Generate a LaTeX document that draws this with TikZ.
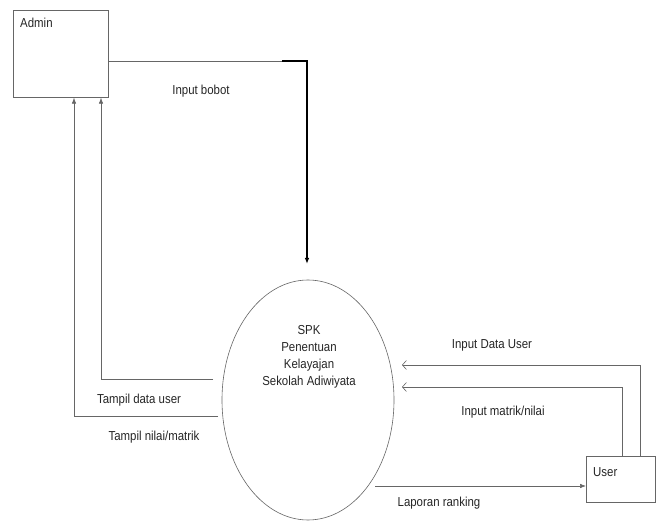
\documentclass[tikz,border=0pt]{standalone}
\usepackage{fontspec}
\setmainfont[FakeStretch=0.88]{Liberation Sans}
\usetikzlibrary{arrows.meta,shapes.geometric}
\begin{document}
\begin{tikzpicture}[x=1pt,y=-1pt,
  ln/.style={draw=black!60, line width=0.6pt},
  bold/.style={draw=black, line width=1.1pt},
  fillarrow/.style={-{Latex[length=6pt,width=4.5pt]}},
  openarrow/.style={-{Straight Barb[length=4pt,width=9pt]}},
  lbl/.style={font=\fontsize{13}{15}\selectfont, inner sep=0pt, text=black!85},
  entity/.style={draw=black!60, line width=0.7pt, inner sep=0pt, anchor=north west}]
\useasboundingbox[fill=white] (0,0) rectangle (662,521);
% entities
\node[entity, minimum width=95pt, minimum height=87pt] (admin) at (13,10) {};
\node[lbl, anchor=north west] (admint) at (20,18) {Admin};
\node[entity, minimum width=69pt, minimum height=46pt] (user) at (586,456) {};
\node[lbl, anchor=west] (usert) at (593,472) {User};
% process
\node[ellipse, draw=black!60, line width=0.6pt, minimum width=172pt, minimum height=240pt] (spk) at (308,400) {};
\node[lbl, align=center, font=\fontsize{13}{17}\selectfont] (spkt) at (309,357) {SPK\\Penentuan\\Kelayajan\\Sekolah Adiwiyata};
% coordinates
\coordinate (b0) at (108,61);
\coordinate (b1) at (282,61);
\coordinate (b2) at (307,61);
\coordinate (b3) at (307,264);
\coordinate (t1) at (213,379);
\coordinate (t2) at (101,379);
\coordinate (t3) at (218,416);
\coordinate (t4) at (74,416);
\coordinate (u1) at (640,365);
\coordinate (u2) at (402,365);
\coordinate (u3) at (622,387);
\coordinate (u4) at (402,387);
\coordinate (l1) at (375,486);
% connectors
\draw[ln] (b0) -- (b1);
\draw[bold, fillarrow] (b1) -- (b2) -- (b3);
\draw[ln, fillarrow] (t1) -- (t2) -- (t2 |- admin.south);
\draw[ln, fillarrow] (t3) -- (t4) -- (t4 |- admin.south);
\draw[ln, openarrow] (user.north -| u1) -- (u1) -- (u2);
\draw[ln, openarrow] (user.north -| u3) -- (u3) -- (u4);
\draw[ln, fillarrow] (l1) -- (l1 -| user.west);
% labels
\node[lbl] (lb1) at (201,91) {Input bobot};
\node[lbl] (lb2) at (139,400) {Tampil data user};
\node[lbl] (lb3) at (154,437) {Tampil nilai/matrik};
\node[lbl] (lb4) at (492,345) {Input Data User};
\node[lbl] (lb5) at (503,412) {Input matrik/nilai};
\node[lbl] (lb6) at (439,503) {Laporan ranking};
\end{tikzpicture}
\end{document}
